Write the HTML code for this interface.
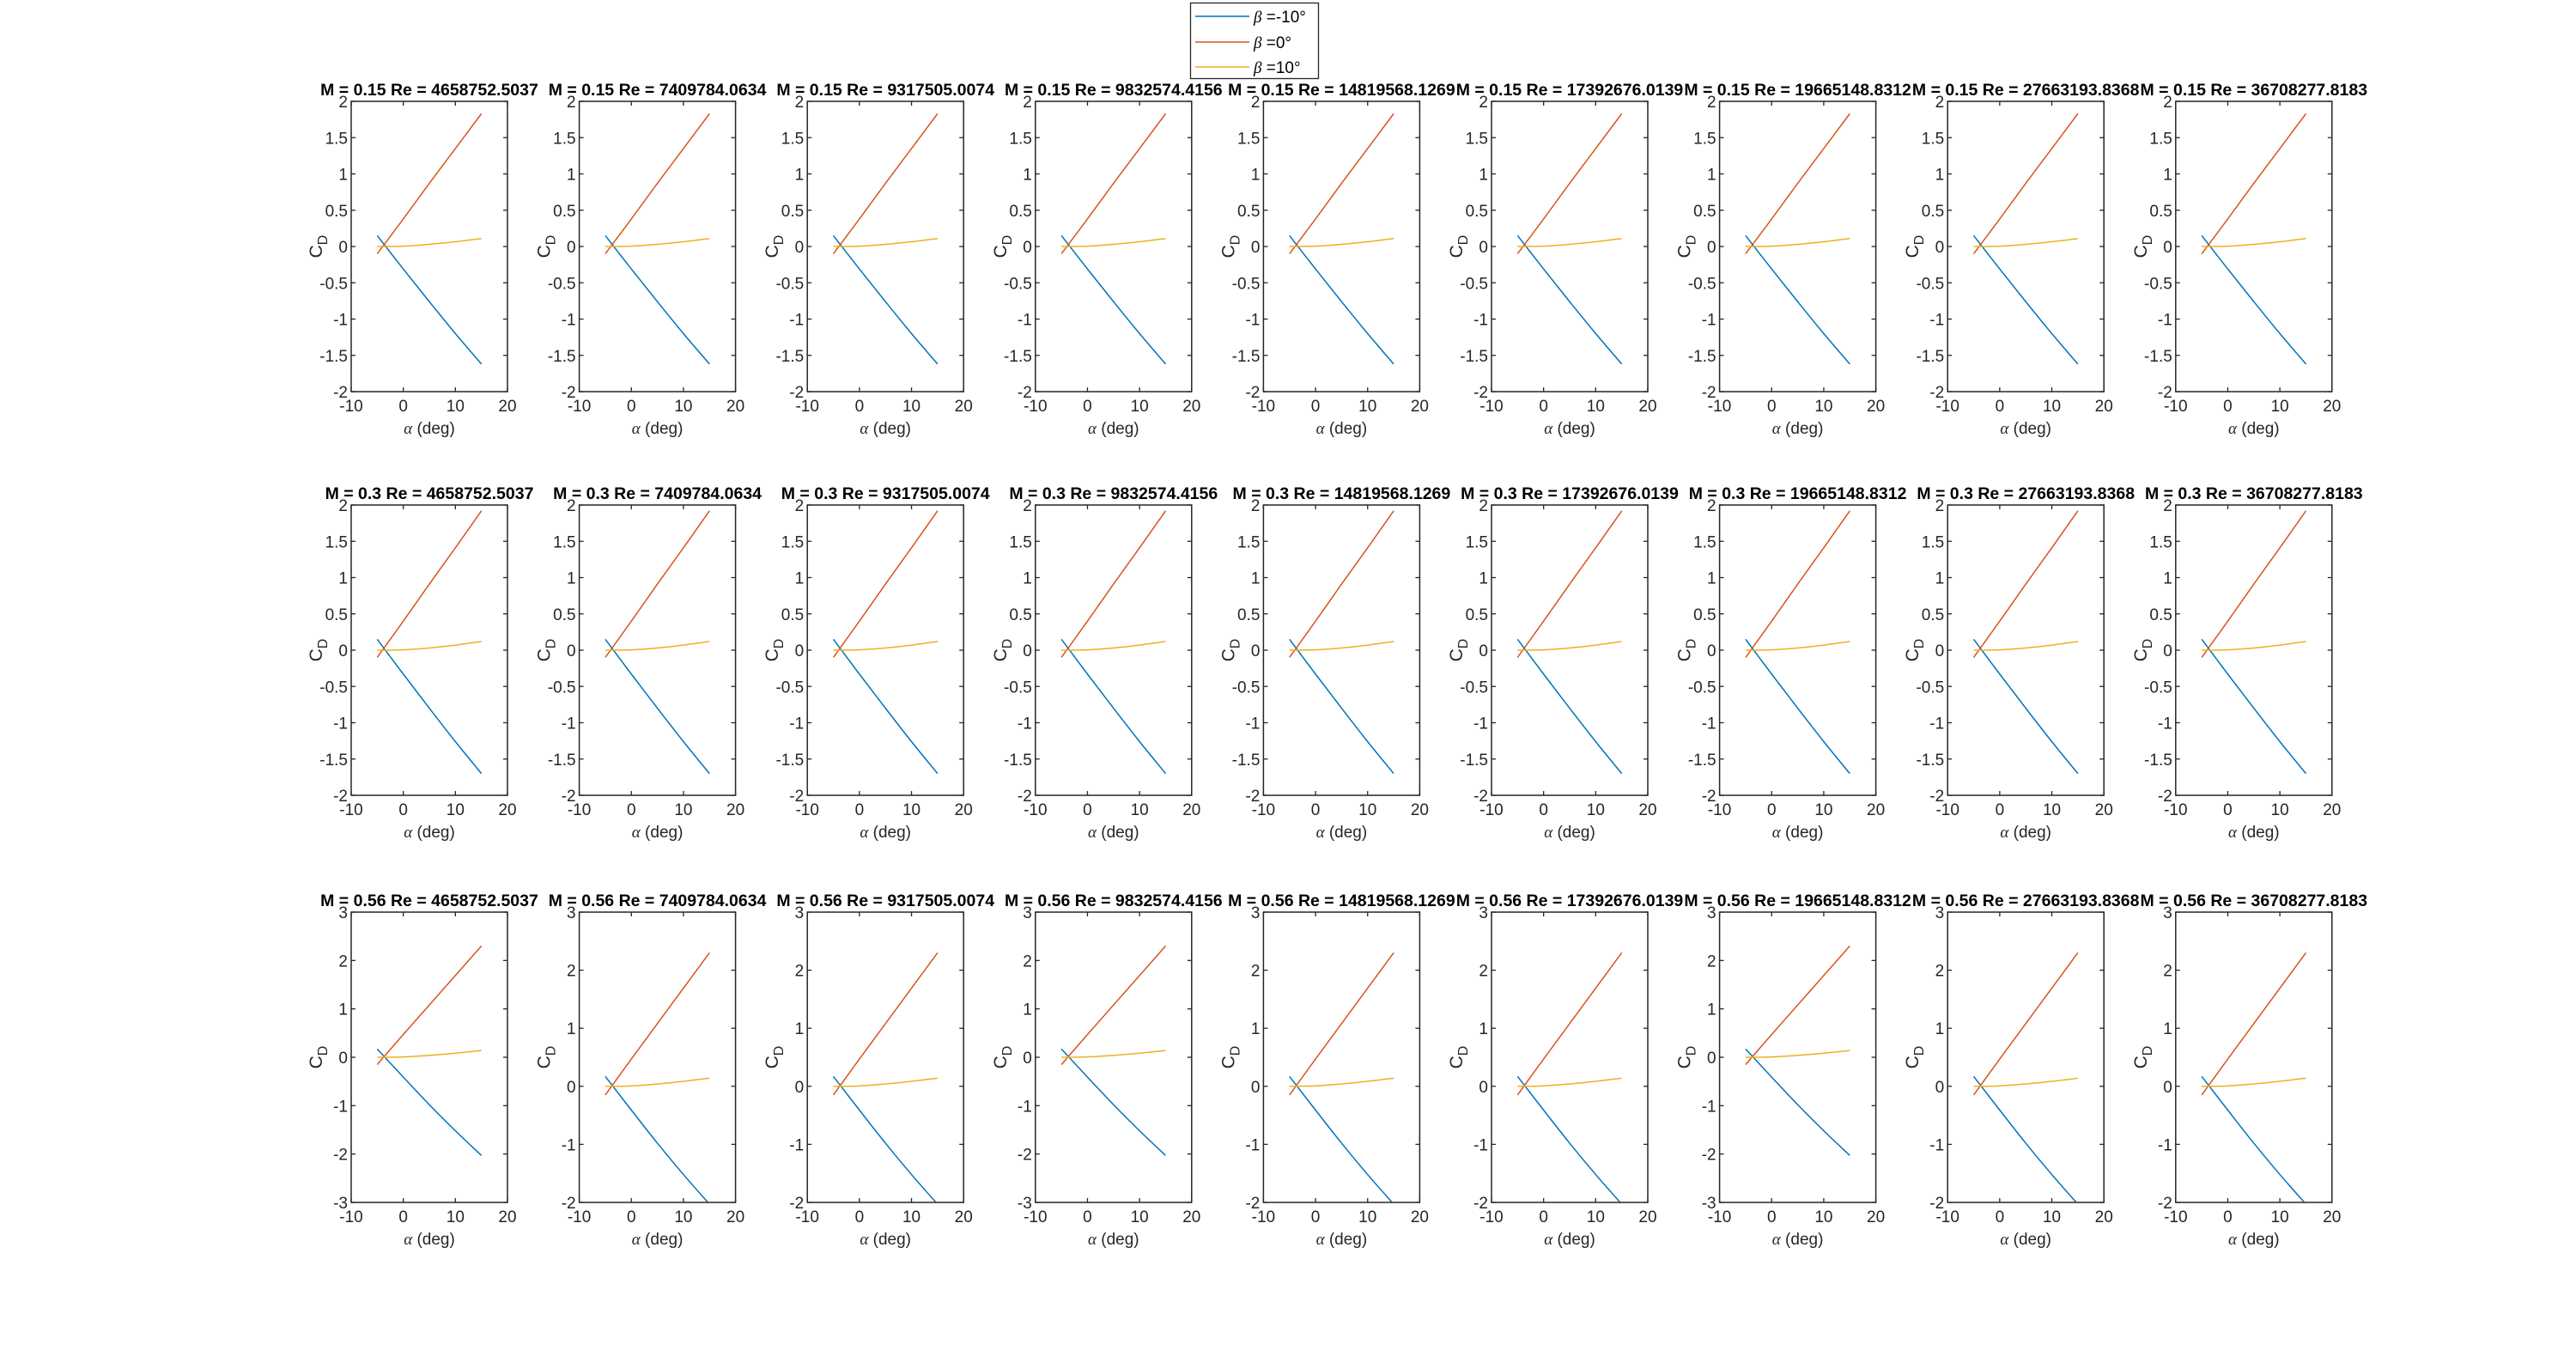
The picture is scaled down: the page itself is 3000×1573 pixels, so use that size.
<!DOCTYPE html>
<html><head><meta charset="utf-8"><title>C_D vs alpha</title>
<style>html,body{margin:0;padding:0;background:#fff;}svg{display:block;}</style></head>
<body>
<svg id="fig" width="3000" height="1573" viewBox="0 0 3000 1573" xmlns="http://www.w3.org/2000/svg" font-family="'Liberation Sans', Arial, sans-serif">
<rect width="3000" height="1573" fill="#fff"/>
<g>
<rect x="1386.5" y="3.5" width="149" height="88" fill="#fff" stroke="#262626" stroke-width="1.3"/>
<line x1="1392" y1="19" x2="1455" y2="19" stroke="#0072BD" stroke-width="1.5"/>
<text x="1460" y="26" font-size="19" fill="#000"><tspan font-family="'Liberation Serif', serif" font-style="italic">β</tspan> =-10°</text>
<line x1="1392" y1="49" x2="1455" y2="49" stroke="#D95319" stroke-width="1.5"/>
<text x="1460" y="56" font-size="19" fill="#000"><tspan font-family="'Liberation Serif', serif" font-style="italic">β</tspan> =0°</text>
<line x1="1392" y1="78" x2="1455" y2="78" stroke="#EDB120" stroke-width="1.5"/>
<text x="1460" y="85" font-size="19" fill="#000"><tspan font-family="'Liberation Serif', serif" font-style="italic">β</tspan> =10°</text>
</g>
<g id="plots"></g>
</svg>
<script>
// ---- data ----
const machs = ["0.15", "0.3", "0.56"];
const reynolds = ["4658752.5037","7409784.0634","9317505.0074","9832574.4156","14819568.1269","17392676.0139","19665148.8312","27663193.8368","36708277.8183"];
const alphaPts = [-5, 0, 5, 10, 15];
// per-row series (CD at alphaPts)
const cdBetaM10 = [
  [0.15, -0.31, -0.76, -1.20, -1.62],
  [0.15, -0.33, -0.80, -1.26, -1.70],
  [0.17, -0.41, -0.98, -1.52, -2.03]
];
const cdBeta0 = [
  [-0.10, 0.38, 0.87, 1.35, 1.83],
  [-0.10, 0.40, 0.91, 1.41, 1.92],
  [-0.15, 0.47, 1.08, 1.69, 2.30]
];
const cdBeta10 = [
  [0.0, 0.005, 0.03, 0.065, 0.11],
  [0.0, 0.005, 0.03, 0.07, 0.12],
  [0.0, 0.007, 0.04, 0.085, 0.14]
];
const yLimsRow3Min = [-3, -2, -2, -3, -2, -2, -3, -2, -2];
const xTicks = [-10, 0, 10, 20];
const yTicksHalf = [-2, -1.5, -1, -0.5, 0, 0.5, 1, 1.5, 2];

const NS = "http://www.w3.org/2000/svg";
const root = document.getElementById('plots');
const colLeft = 409, colStep = 265.6, axW = 182;
const rowTop = [118, 588, 1062], axH = 338;
function mk(tag, attrs, parent) {
  const e = document.createElementNS(NS, tag);
  for (const k in attrs) e.setAttribute(k, attrs[k]);
  parent.appendChild(e);
  return e;
}
for (let r = 0; r < 3; r++) {
  for (let c = 0; c < 9; c++) {
    const L = colLeft + c * colStep, T = rowTop[r];
    let ymin = -2, ymax = 2, yt = yTicksHalf;
    if (r === 2) { ymin = yLimsRow3Min[c]; ymax = 3; yt = []; for (let v = ymin; v <= ymax; v++) yt.push(v); }
    const xs = v => L + (v + 10) / 30 * axW;
    const ys = v => T + (ymax - v) / (ymax - ymin) * axH;
    const g = mk('g', {}, root);
    
    
    const cid = 'clip' + r + '_' + c;
    const cp = mk('clipPath', { id: cid }, g);
    mk('rect', { x: L, y: T, width: axW, height: axH }, cp);
    const series = [[cdBetaM10[r], '#0072BD', 'line-beta-minus10'], [cdBeta0[r], '#D95319', 'line-beta-0'], [cdBeta10[r], '#EDB120', 'line-beta-10']];
    for (const [vals, col, nm] of series) {
      const P = alphaPts.map((a, i) => [xs(a), ys(vals[i])]);
      let d = 'M' + P[0][0].toFixed(2) + ' ' + P[0][1].toFixed(2);
      for (let i = 0; i < P.length - 1; i++) {
        const p0 = P[Math.max(i - 1, 0)], p1 = P[i], p2 = P[i + 1], p3 = P[Math.min(i + 2, P.length - 1)];
        const c1 = [p1[0] + (p2[0] - p0[0]) / 6, p1[1] + (p2[1] - p0[1]) / 6];
        const c2 = [p2[0] - (p3[0] - p1[0]) / 6, p2[1] - (p3[1] - p1[1]) / 6];
        d += ' C' + c1.map(v => v.toFixed(2)).join(' ') + ' ' + c2.map(v => v.toFixed(2)).join(' ') + ' ' + p2.map(v => v.toFixed(2)).join(' ');
      }
      const p = mk('path', { d: d, fill: 'none', stroke: col, 'stroke-width': 1.5, 'clip-path': 'url(#' + cid + ')' }, g);
      
      
    }
    const box = mk('rect', { x: L, y: T, width: axW, height: axH, fill: 'none', stroke: '#262626', 'stroke-width': 1.5 }, g);
    
    
    for (const v of xTicks) {
      const x = xs(v);
      mk('line', { x1: x, y1: T + axH, x2: x, y2: T + axH - 5, stroke: '#262626', 'stroke-width': 1.3 }, g);
      mk('line', { x1: x, y1: T, x2: x, y2: T + 5, stroke: '#262626', 'stroke-width': 1.3 }, g);
      const t = mk('text', { x: x, y: T + axH + 23, 'font-size': 19, fill: '#262626', 'text-anchor': 'middle' }, g);
      t.textContent = v;
      
      
    }
    for (const v of yt) {
      const y = ys(v);
      mk('line', { x1: L, y1: y, x2: L + 5, y2: y, stroke: '#262626', 'stroke-width': 1.3 }, g);
      mk('line', { x1: L + axW, y1: y, x2: L + axW - 5, y2: y, stroke: '#262626', 'stroke-width': 1.3 }, g);
      const t = mk('text', { x: L - 4, y: y + 7, 'font-size': 19, fill: '#262626', 'text-anchor': 'end' }, g);
      t.textContent = v;
      
      
    }
    const xl = mk('text', { x: L + axW / 2, y: T + axH + 49, 'font-size': 19, fill: '#262626', 'text-anchor': 'middle' }, g);
    xl.innerHTML = '<tspan font-family="\'Liberation Serif\', serif" font-style="italic">α</tspan> (deg)';
    
    
    const yl = mk('text', { transform: 'translate(' + (L - 34) + ',' + (T + axH / 2) + ') rotate(-90)', 'font-size': 21, fill: '#262626', 'text-anchor': 'middle' }, g);
    yl.innerHTML = 'C<tspan font-size="16" dy="6">D</tspan>';
    
    
    const tt = mk('text', { x: L + axW / 2, y: T - 7, 'font-size': 19.5, 'font-weight': 'bold', fill: '#000', 'text-anchor': 'middle' }, g);
    tt.textContent = 'M = ' + machs[r] + ' Re = ' + reynolds[c];
    
    
  }
}
</script>
</body></html>
